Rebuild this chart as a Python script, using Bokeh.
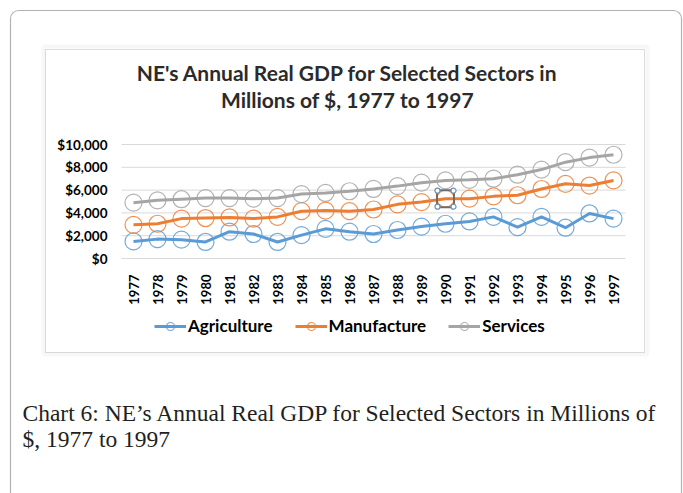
import math
from bokeh.plotting import figure
from bokeh.models import (Range1d, FixedTicker, NumeralTickFormatter, LinearAxis,
                          Label, BoxAnnotation, Legend, LegendItem)
from bokeh.embed import file_html
from bokeh.resources import INLINE

# ---------------- data ----------------
years = [1977, 1978, 1979, 1980, 1981, 1982, 1983, 1984, 1985, 1986,
         1987, 1988, 1989, 1990, 1991, 1992, 1993, 1994, 1995, 1996, 1997]
agriculture = [1500, 1700, 1650, 1450, 2350, 2150, 1450, 2050, 2600, 2350,
               2150, 2500, 2800, 3050, 3250, 3650, 2750, 3650, 2700, 3950, 3500]
manufacture = [2950, 3050, 3500, 3550, 3600, 3500, 3650, 4150, 4200, 4150,
               4300, 4750, 4950, 5250, 5250, 5450, 5550, 6100, 6550, 6400, 6850]
services = [4900, 5100, 5200, 5300, 5300, 5250, 5300, 5650, 5750, 5900,
            6100, 6350, 6650, 6850, 6900, 7000, 7350, 7800, 8450, 8850, 9100]
y_ticks = [0, 2000, 4000, 6000, 8000, 10000]
series_names = ["Agriculture", "Manufacture", "Services"]
series_colors = ["#5B9BD5", "#ED7D31", "#A5A5A5"]
title_lines = ["NE's Annual Real GDP for Selected Sectors in", "Millions of $, 1977 to 1997"]
caption_lines = ["Chart 6: NE\u2019s Annual Real GDP for Selected Sectors in Millions of",
                 "$, 1977 to 1997"]
selected_index = 13  # 1990 manufacture point shown as selected

# ---------------- layout ----------------
W, H = 683, 493
CL, CT = 0, 0                      # canvas origin in picture px
CR, CB = CL + W, CT + H
PL, PR, PT, PB = 121, 625, 144, 258  # plot area in picture px
x_lo = years[0] - 0.5
x_hi = years[-1] + 0.5
xpp = (x_hi - x_lo) / (PR - PL)
ypp = (y_ticks[-1] - y_ticks[0]) / (PB - PT)
x_range = Range1d(x_lo - (PL - CL) * xpp, x_hi + (CR - PR) * xpp)
y_range = Range1d(y_ticks[0] - (CB - PB) * ypp, y_ticks[-1] + (PT - CT) * ypp)

def sx(X):
    return X - CL
def sy(Y):
    return CB - Y

p = figure(width=W, height=H, x_range=x_range, y_range=y_range,
           x_axis_type=None, y_axis_type=None,
           output_backend="svg", toolbar_location=None,
           min_border=0)
p.outline_line_color = None
p.background_fill_color = "white"
p.border_fill_color = "white"
p.grid.visible = False

# gridlines across the plot area
p.segment(x0=[x_lo] * len(y_ticks), x1=[x_hi] * len(y_ticks), y0=y_ticks, y1=y_ticks,
          line_color="#d9d9d9", line_width=1)

yaxis = LinearAxis(ticker=FixedTicker(ticks=y_ticks),
                   formatter=NumeralTickFormatter(format="$0,0"),
                   fixed_location=x_lo)
yaxis.axis_line_color = None
yaxis.major_tick_line_color = None
yaxis.minor_tick_line_color = None
yaxis.major_label_text_font = "Lato"
yaxis.major_label_text_font_style = "bold"
yaxis.major_label_text_font_size = "13.5px"
yaxis.major_label_text_color = "#000000"
yaxis.major_label_standoff = 8
p.add_layout(yaxis, "left")

xaxis = LinearAxis(ticker=FixedTicker(ticks=years), fixed_location=y_ticks[0])
xaxis.axis_line_color = None
xaxis.major_tick_line_color = None
xaxis.minor_tick_line_color = None
xaxis.major_label_orientation = math.pi / 2
xaxis.major_label_text_font = "Lato"
xaxis.major_label_text_font_style = "bold"
xaxis.major_label_text_font_size = "13px"
xaxis.major_label_text_color = "#000000"
xaxis.major_label_standoff = 10
p.add_layout(xaxis, "below")

items = []
for name, vals, col in zip(series_names, [agriculture, manufacture, services], series_colors):
    ln = p.line(x=years, y=vals, line_color=col, line_width=3)
    sc = p.scatter(x=years, y=vals, size=17, marker="circle", fill_color=None,
                   line_color=col, line_width=1.2, line_alpha=0.85)
    items.append(LegendItem(label=name, renderers=[ln, sc]))

# selection handle on the 1990 manufacture point
sel_x = years[selected_index]
sel_y = manufacture[selected_index]
p.scatter(x=[sel_x], y=[sel_y], marker="square",
          size=17, fill_color=None, line_color="#6d6d6d", line_width=2)
hx, hy = 8 * xpp, 8 * ypp
p.scatter(x=[sel_x - hx, sel_x + hx, sel_x - hx, sel_x + hx],
          y=[sel_y - hy, sel_y - hy, sel_y + hy, sel_y + hy],
          size=5, marker="circle", fill_color="#ffffff", line_color="#6f8fae", line_width=1.2)

legend = Legend(items=items, orientation="horizontal", location=(sx(154), sy(336)),
                glyph_width=32, glyph_height=20, label_standoff=2, spacing=22,
                padding=0, margin=0, border_line_color=None, background_fill_alpha=0,
                label_text_font="Lato", label_text_font_style="bold",
                label_text_font_size="17px", label_text_color="#000000")
p.add_layout(legend)

# title
for txt, base in zip(title_lines, [72, 99]):
    p.add_layout(Label(x=sx(347), y=sy(base), x_units="screen", y_units="screen",
                       text=txt, text_align="center", text_baseline="alphabetic",
                       text_font="Lato", text_font_style="bold", text_font_size="21px",
                       text_color="#2b2b2b"))

# caption
for txt, base in zip(caption_lines, [412, 438]):
    p.add_layout(Label(x=sx(22), y=sy(base), x_units="screen", y_units="screen",
                       text=txt, text_align="left", text_baseline="alphabetic",
                       text_font="Liberation Serif", text_font_size="23.5px",
                       text_color="#231f20"))

def screen_box(left, right, top, bottom, **kw):
    return BoxAnnotation(left=sx(left), right=sx(right), top=sy(top), bottom=sy(bottom),
                         left_units="screen", right_units="screen",
                         top_units="screen", bottom_units="screen",
                         fill_alpha=0, **kw)

# chart frame (light gray band with darker inner line)
p.add_layout(screen_box(43, 647, 46, 354, line_color="#e3e3e3", line_width=4))
p.add_layout(screen_box(45, 644, 49, 352, line_color="#8c8c8c", line_width=1))
# outer rounded box
p.add_layout(screen_box(10, 681, 10, 560, line_color="#000000", line_width=1.2,
                        border_radius=8))

open("out.html", "w").write(file_html(p, INLINE))
